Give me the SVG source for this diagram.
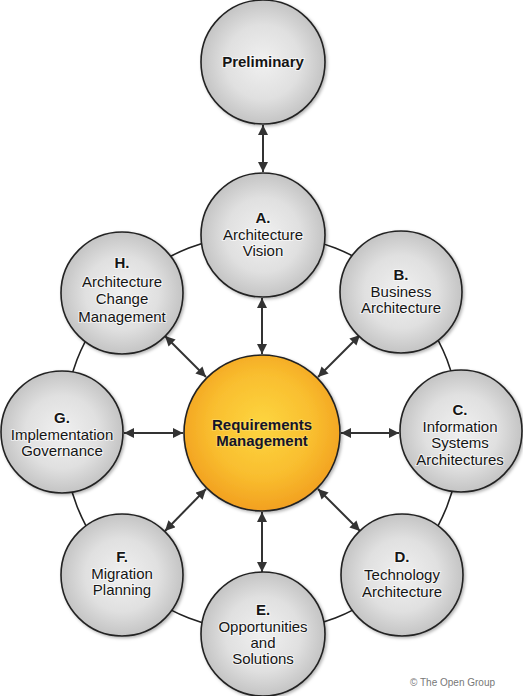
<svg xmlns="http://www.w3.org/2000/svg" width="523" height="696" viewBox="0 0 523 696">
<defs>
<radialGradient id="gray" cx="50%" cy="50%" r="50%">
<stop offset="0" stop-color="#f0f0f0"/>
<stop offset="0.6" stop-color="#e0e0e0"/>
<stop offset="1" stop-color="#c4c4c4"/>
</radialGradient>
<radialGradient id="orange" cx="50%" cy="45%" r="55%">
<stop offset="0" stop-color="#fdd640"/>
<stop offset="0.6" stop-color="#f9be2f"/>
<stop offset="1" stop-color="#f2a020"/>
</radialGradient>
<filter id="sh" x="-20%" y="-20%" width="140%" height="140%">
<feDropShadow dx="1.5" dy="1.5" stdDeviation="1.5" flood-color="#000" flood-opacity="0.3"/>
</filter>
<marker id="ah" viewBox="0 0 10 10" refX="10" refY="5" markerWidth="5.5" markerHeight="5" orient="auto-start-reverse" markerUnits="strokeWidth">
<path d="M0,0 L10,5 L0,10 z" fill="#333"/>
</marker>
</defs>
<style>
.node{fill:url(#gray);stroke:#222;stroke-width:1.6;filter:url(#sh)}
.core{fill:url(#orange);stroke:#222;stroke-width:1.6;filter:url(#sh)}
text{font-family:"Liberation Sans",Arial,sans-serif;font-size:15px;text-anchor:middle;fill:#151515;stroke:#fff;stroke-width:2;stroke-opacity:0.6;paint-order:stroke}
.b{font-weight:bold}
.rm{font-weight:bold;fill:#14142a;stroke:#fde070;stroke-opacity:0.5}
.conn line{stroke:#333;stroke-width:2;marker-start:url(#ah);marker-end:url(#ah)}
.copy{font-size:10px;text-anchor:start;fill:#777;stroke:none}
</style>
<rect width="523" height="696" fill="#fff"/>
<circle cx="262" cy="433" r="199" fill="none" stroke="#222" stroke-width="1.6"/>
<g class="conn" id="connectors">
<line x1="263" y1="125" x2="263" y2="172"/>
<line x1="262" y1="298" x2="262" y2="354"/>
<line x1="262" y1="512" x2="262" y2="572"/>
<line x1="124" y1="433" x2="183" y2="433"/>
<line x1="341" y1="433" x2="399" y2="433"/>
<line x1="165" y1="336" x2="206" y2="377"/>
<line x1="360" y1="335" x2="318" y2="377"/>
<line x1="165" y1="531" x2="206" y2="489"/>
<line x1="360" y1="531" x2="318" y2="489"/>
</g>
<g id="preliminary">
<circle class="node" cx="263" cy="62" r="62"/>
<text class="b" x="263" y="67">Preliminary</text>
</g>
<g id="a">
<circle class="node" cx="263" cy="235" r="62"/>
<text class="b" x="263" y="223">A.</text>
<text x="263" y="240">Architecture</text>
<text x="263" y="256">Vision</text>
</g>
<g id="b">
<circle class="node" cx="401" cy="292" r="61"/>
<text class="b" x="401" y="280">B.</text>
<text x="401" y="297">Business</text>
<text x="401" y="313">Architecture</text>
</g>
<g id="c">
<circle class="node" cx="461" cy="431" r="61"/>
<text class="b" x="460" y="415">C.</text>
<text x="460" y="432">Information</text>
<text x="460" y="448">Systems</text>
<text x="460" y="465">Architectures</text>
</g>
<g id="d">
<circle class="node" cx="402" cy="575" r="61"/>
<text class="b" x="402" y="562">D.</text>
<text x="402" y="580">Technology</text>
<text x="402" y="597">Architecture</text>
</g>
<g id="e">
<circle class="node" cx="263" cy="634" r="62"/>
<text class="b" x="263" y="615">E.</text>
<text x="263" y="632">Opportunities</text>
<text x="263" y="648">and</text>
<text x="263" y="664">Solutions</text>
</g>
<g id="f">
<circle class="node" cx="122" cy="575" r="61"/>
<text class="b" x="122" y="562">F.</text>
<text x="122" y="579">Migration</text>
<text x="122" y="595">Planning</text>
</g>
<g id="g">
<circle class="node" cx="62" cy="432" r="61"/>
<text class="b" x="62" y="423">G.</text>
<text x="62" y="440">Implementation</text>
<text x="62" y="456">Governance</text>
</g>
<g id="h">
<circle class="node" cx="122" cy="293" r="61"/>
<text class="b" x="122" y="268">H.</text>
<text x="122" y="287">Architecture</text>
<text x="122" y="304">Change</text>
<text x="122" y="322">Management</text>
</g>
<g id="requirements">
<circle class="core" cx="262" cy="433" r="78"/>
<text class="rm" x="262" y="430">Requirements</text>
<text class="rm" x="262" y="446">Management</text>
</g>
<text class="copy" x="410" y="686">© The Open Group</text>
</svg>
